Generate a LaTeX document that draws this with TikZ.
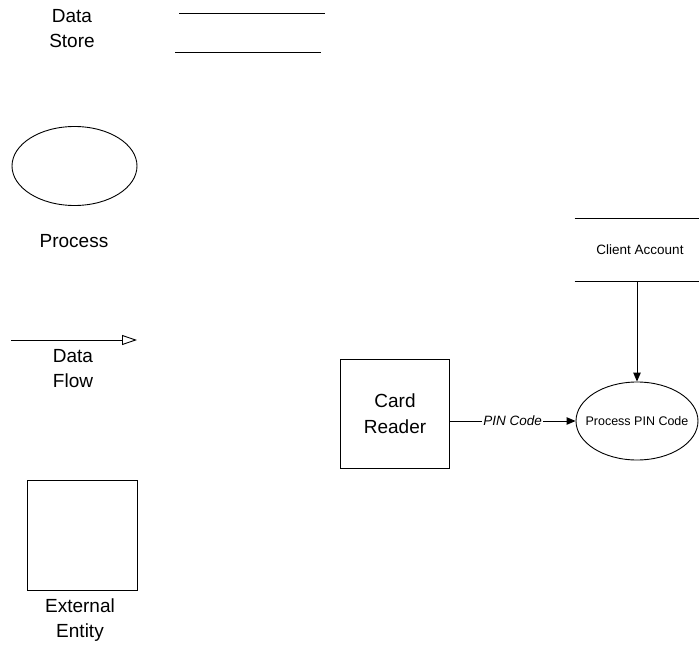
\documentclass[tikz,border=0pt]{standalone}
\usepackage{fontspec}
\setmainfont{Liberation Sans}
\usetikzlibrary{shapes.geometric,arrows.meta}
\begin{document}
\begin{tikzpicture}[x=1pt,y=-1pt,
  line width=0.9pt,
  legendtext/.style={align=center,font=\fontsize{19}{25}\selectfont,inner sep=0pt},
  entity/.style={draw,rectangle,minimum width=109pt,minimum height=109pt,inner sep=0pt,
    align=center,font=\fontsize{19}{26}\selectfont},
  procnode/.style={draw,ellipse,minimum width=122pt,minimum height=78pt,inner sep=0pt,
    font=\fontsize{12.5}{14}\selectfont},
  storenode/.style={rectangle,minimum width=124pt,minimum height=62pt,inner sep=0pt,
    font=\fontsize{13.5}{15}\selectfont},
  flowarrow/.style={-{Triangle[length=9pt,width=7.5pt]}}
  ]
\useasboundingbox (0,0) rectangle (699,647);

% --- legend ---
\node[legendtext] (lstore) at (72,29) {Data\\Store};
\draw (179,13) -- (325,13);
\draw (175,52) -- (321,52);

\draw (74.5,166) ellipse [x radius=62.5, y radius=39.5];
\node[legendtext] (lproc) at (74,241) {Process};

\draw[-{Triangle[open,length=15pt,width=10pt]}] (11,340) -- (137,340);
\node[legendtext] (lflow) at (73,369) {Data\\Flow};

\draw (27,480) rectangle (137,590);
\node[legendtext] (lent) at (80,620) {External\\Entity};

% --- diagram ---
\node[entity] (card) at (395,413.5) {Card\\Reader};
\node[procnode] (pin) at (637,421) {\makebox[0pt]{Process PIN Code}};
\node[storenode] (acct) at (637,250) {\hspace{6pt}Client Account};
\draw (acct.north west) -- (acct.north east);
\draw (acct.south west) -- (acct.south east);

\draw[flowarrow] (card.east |- pin.west) -- node[fill=white,inner sep=1pt,
  font=\fontsize{13.5}{14}\selectfont\itshape] {PIN Code} (pin.west);
\draw[flowarrow] (acct.south) -- (pin.north);
\end{tikzpicture}
\end{document}
